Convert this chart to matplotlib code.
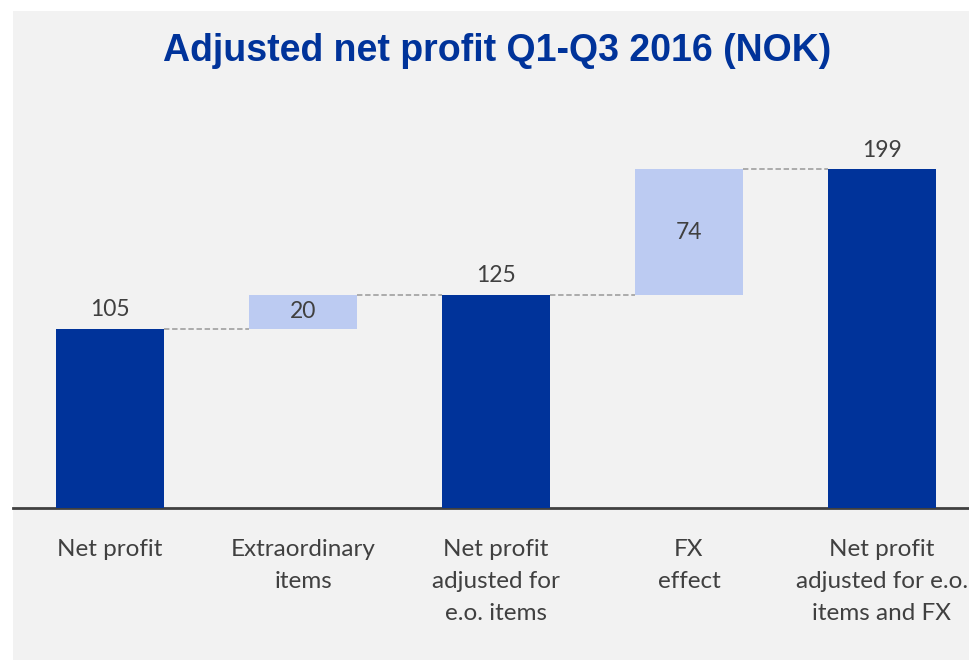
import matplotlib
matplotlib.use("Agg")
import matplotlib.pyplot as plt
from matplotlib.patches import Rectangle

categories = ["Net profit", "Extraordinary\nitems", "Net profit\nadjusted for\ne.o. items",
              "FX\neffect", "Net profit\nadjusted for e.o.\nitems and FX"]
values = [105, 20, 125, 74, 199]
is_total = [True, False, True, False, True]
title = "Adjusted net profit Q1-Q3 2016 (NOK)"

W, H = 969, 661
fig = plt.figure(figsize=(W / 100, H / 100), dpi=100, facecolor="white")
fig.patches.append(Rectangle((13 / W, 1 - 660 / H), 1 - 13 / W, (660 - 11) / H,
                             transform=fig.transFigure, facecolor="#f2f2f2",
                             edgecolor="none", zorder=-10))

base_px = 507.5
top_px = 100
ax = fig.add_axes([13 / W, 1 - base_px / H, 1 - 13 / W, (base_px - top_px) / H])
ax.set_zorder(5)
ax.set_facecolor("none")
ppu = (base_px - 329) / 105.0
ax.set_ylim(0, (base_px - top_px) / ppu)
ax.set_xlim((13 - 110) / 193, (969 - 110) / 193)

dark = "#00339a"
light = "#bccbf2"
width = 0.56
bottoms = []
running = 0
for v, t in zip(values, is_total):
    if t:
        bottoms.append(0)
        running = v
    else:
        bottoms.append(running)
        running += v

xs = list(range(len(values)))
for x, v, b, t in zip(xs, values, bottoms, is_total):
    ax.bar(x, v, width=width, bottom=b, color=dark if t else light, zorder=3)
    if t:
        ax.text(x, v + 5, f"{v}", ha="center", va="bottom", fontsize=16.5,
                color="#404040", family="Lato")
    else:
        ax.text(x, b + v / 2, f"{v}", ha="center", va="center", fontsize=16.5,
                color="#404040", family="Lato")

for i in range(len(values) - 1):
    level = bottoms[i] + values[i]
    ax.plot([xs[i] + width / 2, xs[i + 1] - width / 2], [level, level],
            color="#a6a6a6", lw=1.3, ls=(0, (3, 1.5)), zorder=2)

for s in ["top", "right", "left"]:
    ax.spines[s].set_visible(False)
ax.spines["bottom"].set_color("#404040")
ax.spines["bottom"].set_linewidth(2)
ax.set_yticks([])
ax.set_xticks(xs)
ax.set_xticklabels(categories, fontsize=17.5, color="#404040", family="Lato",
                   linespacing=1.62)
ax.tick_params(axis="x", length=0, pad=23)

fig.text(497 / W, 1 - 51 / H, title, ha="center", va="center", fontsize=27,
         fontweight="bold", color="#00339a", family="Liberation Sans")

fig.savefig("out.png", dpi=100, facecolor="white")
